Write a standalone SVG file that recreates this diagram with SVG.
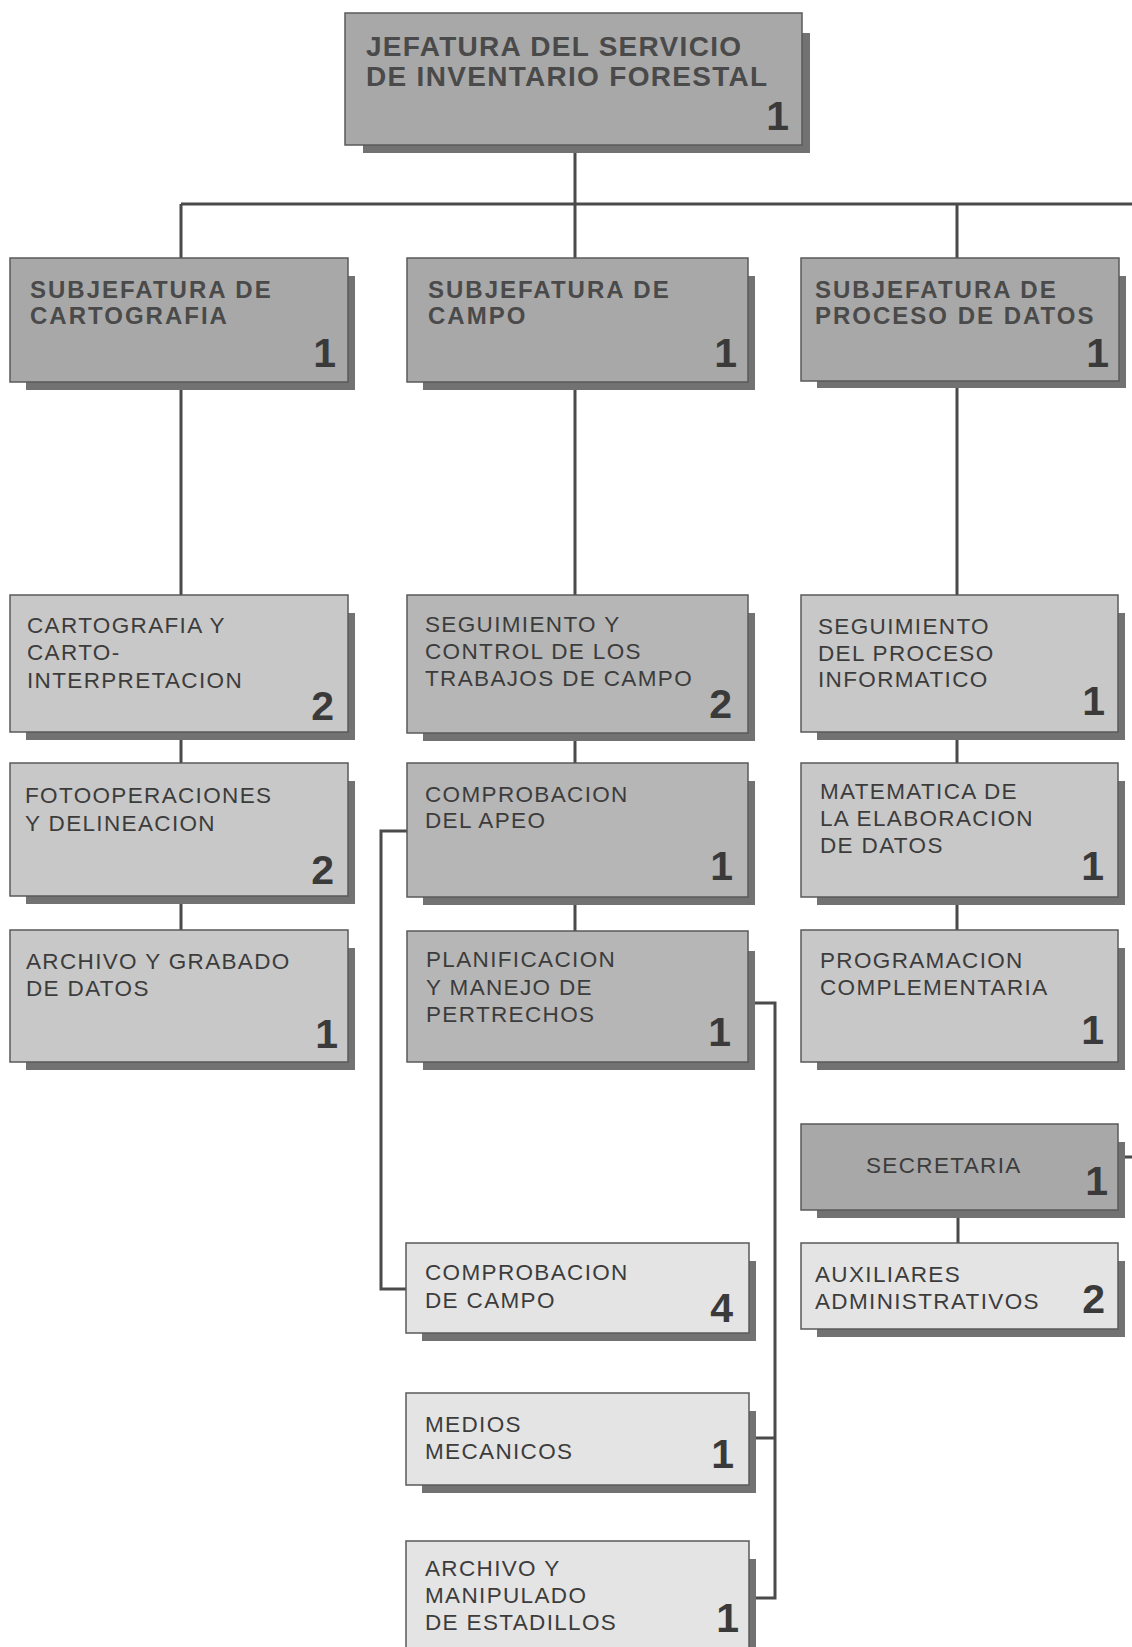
<svg xmlns="http://www.w3.org/2000/svg" width="1132" height="1647" viewBox="0 0 1132 1647">
  <style>
    .sh { fill: #727272; }
    .b { stroke: #5a5a5a; stroke-width: 1.5; }
    .dark { fill: #a8a8a8; }
    .mid { fill: #b6b6b6; }
    .light { fill: #c8c8c8; }
    .pale { fill: #e4e4e4; }
    .head { font-family: "Liberation Sans", Arial, sans-serif; font-weight: bold; fill: #4a4a4a; }
    .t1 { font-size: 28px; letter-spacing: 1.3px; }
    .t2 { font-size: 24px; letter-spacing: 2px; }
    .lbl { font-family: "Liberation Sans", Arial, sans-serif; font-size: 22.5px; letter-spacing: 1.35px; fill: #3c3c3c; }
    .num { font-family: "Liberation Sans", Arial, sans-serif; font-weight: bold; font-size: 41px; fill: #3a3a3a; text-anchor: end; }
    .ln { stroke: #4a4a4a; stroke-width: 3; fill: none; }
  </style>

  <rect width="1132" height="1647" fill="#ffffff"/>

  <!-- connectors -->
  <g id="connectors">
    <path class="ln" d="M575 145 V204 M181 204 H1132 M181 204 V258 M575 204 V258 M957 204 V258"/>
    <path class="ln" d="M181 382 V595 M575 382 V595 M957 382 V595"/>
    <path class="ln" d="M181 732 V763 M181 896 V930 M575 733 V763 M575 897 V931 M957 732 V763 M957 897 V930"/>
    <path class="ln" d="M958 1210 V1243 M1118 1157 H1132"/>
    <path class="ln" d="M407 831 H381 V1289 H407"/>
    <path class="ln" d="M749 1003 H775 V1598 H749 M749 1438 H775"/>
  </g>

  <!-- top level -->
  <g id="jefatura">
    <rect class="sh" x="363" y="33" width="447" height="120"/>
    <rect class="b dark" x="345" y="13" width="457" height="132"/>
    <text class="head t1" x="366" y="56">JEFATURA DEL SERVICIO</text>
    <text class="head t1" x="366" y="86">DE INVENTARIO FORESTAL</text>
    <text class="num" x="789" y="130">1</text>
  </g>

  <!-- second level -->
  <g id="sub-cartografia">
    <rect class="sh" x="26" y="276" width="329" height="114"/>
    <rect class="b dark" x="10" y="258" width="338" height="124"/>
    <text class="head t2" x="30" y="298">SUBJEFATURA DE</text>
    <text class="head t2" x="30" y="324">CARTOGRAFIA</text>
    <text class="num" x="336" y="367">1</text>
  </g>
  <g id="sub-campo">
    <rect class="sh" x="423" y="276" width="332" height="114"/>
    <rect class="b dark" x="407" y="258" width="341" height="124"/>
    <text class="head t2" x="428" y="298">SUBJEFATURA DE</text>
    <text class="head t2" x="428" y="324">CAMPO</text>
    <text class="num" x="737" y="367">1</text>
  </g>
  <g id="sub-proceso">
    <rect class="sh" x="817" y="276" width="309" height="112"/>
    <rect class="b dark" x="801" y="258" width="318" height="123"/>
    <text class="head t2" x="815" y="298">SUBJEFATURA DE</text>
    <text class="head t2" x="815" y="324">PROCESO DE DATOS</text>
    <text class="num" x="1109" y="367">1</text>
  </g>

  <!-- cartografia column -->
  <g id="cartografia-interpretacion">
    <rect class="sh" x="26" y="613" width="329" height="127"/>
    <rect class="b light" x="10" y="595" width="338" height="137"/>
    <text class="lbl" x="27" y="633">CARTOGRAFIA Y</text>
    <text class="lbl" x="27" y="660">CARTO-</text>
    <text class="lbl" x="27" y="688">INTERPRETACION</text>
    <text class="num" x="334" y="720">2</text>
  </g>
  <g id="fotooperaciones">
    <rect class="sh" x="26" y="781" width="329" height="123"/>
    <rect class="b light" x="10" y="763" width="338" height="133"/>
    <text class="lbl" x="25" y="803">FOTOOPERACIONES</text>
    <text class="lbl" x="25" y="831">Y DELINEACION</text>
    <text class="num" x="334" y="884">2</text>
  </g>
  <g id="archivo-grabado">
    <rect class="sh" x="26" y="948" width="329" height="122"/>
    <rect class="b light" x="10" y="930" width="338" height="132"/>
    <text class="lbl" x="26" y="969">ARCHIVO Y GRABADO</text>
    <text class="lbl" x="26" y="996">DE DATOS</text>
    <text class="num" x="338" y="1048">1</text>
  </g>

  <!-- campo column -->
  <g id="seguimiento-campo">
    <rect class="sh" x="423" y="613" width="332" height="128"/>
    <rect class="b mid" x="407" y="595" width="341" height="138"/>
    <text class="lbl" x="425" y="632">SEGUIMIENTO Y</text>
    <text class="lbl" x="425" y="659">CONTROL DE LOS</text>
    <text class="lbl" x="425" y="686">TRABAJOS DE CAMPO</text>
    <text class="num" x="732" y="718">2</text>
  </g>
  <g id="comprobacion-apeo">
    <rect class="sh" x="423" y="781" width="332" height="124"/>
    <rect class="b mid" x="407" y="763" width="341" height="134"/>
    <text class="lbl" x="425" y="802">COMPROBACION</text>
    <text class="lbl" x="425" y="828">DEL APEO</text>
    <text class="num" x="733" y="880">1</text>
  </g>
  <g id="planificacion">
    <rect class="sh" x="423" y="951" width="332" height="119"/>
    <rect class="b mid" x="407" y="931" width="341" height="131"/>
    <text class="lbl" x="426" y="967">PLANIFICACION</text>
    <text class="lbl" x="426" y="995">Y MANEJO DE</text>
    <text class="lbl" x="426" y="1022">PERTRECHOS</text>
    <text class="num" x="731" y="1046">1</text>
  </g>
  <g id="comprobacion-campo">
    <rect class="sh" x="422" y="1261" width="334" height="80"/>
    <rect class="b pale" x="406" y="1243" width="343" height="90"/>
    <text class="lbl" x="425" y="1280">COMPROBACION</text>
    <text class="lbl" x="425" y="1308">DE CAMPO</text>
    <text class="num" x="733" y="1322">4</text>
  </g>
  <g id="medios-mecanicos">
    <rect class="sh" x="422" y="1411" width="334" height="82"/>
    <rect class="b pale" x="406" y="1393" width="343" height="92"/>
    <text class="lbl" x="425" y="1432">MEDIOS</text>
    <text class="lbl" x="425" y="1459">MECANICOS</text>
    <text class="num" x="734" y="1468">1</text>
  </g>
  <g id="archivo-estadillos">
    <rect class="sh" x="422" y="1559" width="334" height="105"/>
    <rect class="b pale" x="406" y="1541" width="343" height="115"/>
    <text class="lbl" x="425" y="1576">ARCHIVO Y</text>
    <text class="lbl" x="425" y="1603">MANIPULADO</text>
    <text class="lbl" x="425" y="1630">DE ESTADILLOS</text>
    <text class="num" x="739" y="1632">1</text>
  </g>

  <!-- proceso de datos column -->
  <g id="seguimiento-informatico">
    <rect class="sh" x="817" y="613" width="308" height="127"/>
    <rect class="b light" x="801" y="595" width="317" height="137"/>
    <text class="lbl" x="818" y="634">SEGUIMIENTO</text>
    <text class="lbl" x="818" y="661">DEL PROCESO</text>
    <text class="lbl" x="818" y="687">INFORMATICO</text>
    <text class="num" x="1105" y="715">1</text>
  </g>
  <g id="matematica">
    <rect class="sh" x="817" y="781" width="308" height="124"/>
    <rect class="b light" x="801" y="763" width="317" height="134"/>
    <text class="lbl" x="820" y="799">MATEMATICA DE</text>
    <text class="lbl" x="820" y="826">LA ELABORACION</text>
    <text class="lbl" x="820" y="853">DE DATOS</text>
    <text class="num" x="1104" y="880">1</text>
  </g>
  <g id="programacion">
    <rect class="sh" x="817" y="948" width="308" height="122"/>
    <rect class="b light" x="801" y="930" width="317" height="132"/>
    <text class="lbl" x="820" y="968">PROGRAMACION</text>
    <text class="lbl" x="820" y="995">COMPLEMENTARIA</text>
    <text class="num" x="1104" y="1044">1</text>
  </g>
  <g id="secretaria">
    <rect class="sh" x="817" y="1142" width="308" height="76"/>
    <rect class="b dark" x="801" y="1124" width="317" height="86"/>
    <text class="lbl" x="866" y="1173">SECRETARIA</text>
    <text class="num" x="1108" y="1195">1</text>
  </g>
  <g id="auxiliares">
    <rect class="sh" x="817" y="1261" width="308" height="76"/>
    <rect class="b pale" x="801" y="1243" width="317" height="86"/>
    <text class="lbl" x="815" y="1282">AUXILIARES</text>
    <text class="lbl" x="815" y="1309">ADMINISTRATIVOS</text>
    <text class="num" x="1105" y="1313">2</text>
  </g>
</svg>
